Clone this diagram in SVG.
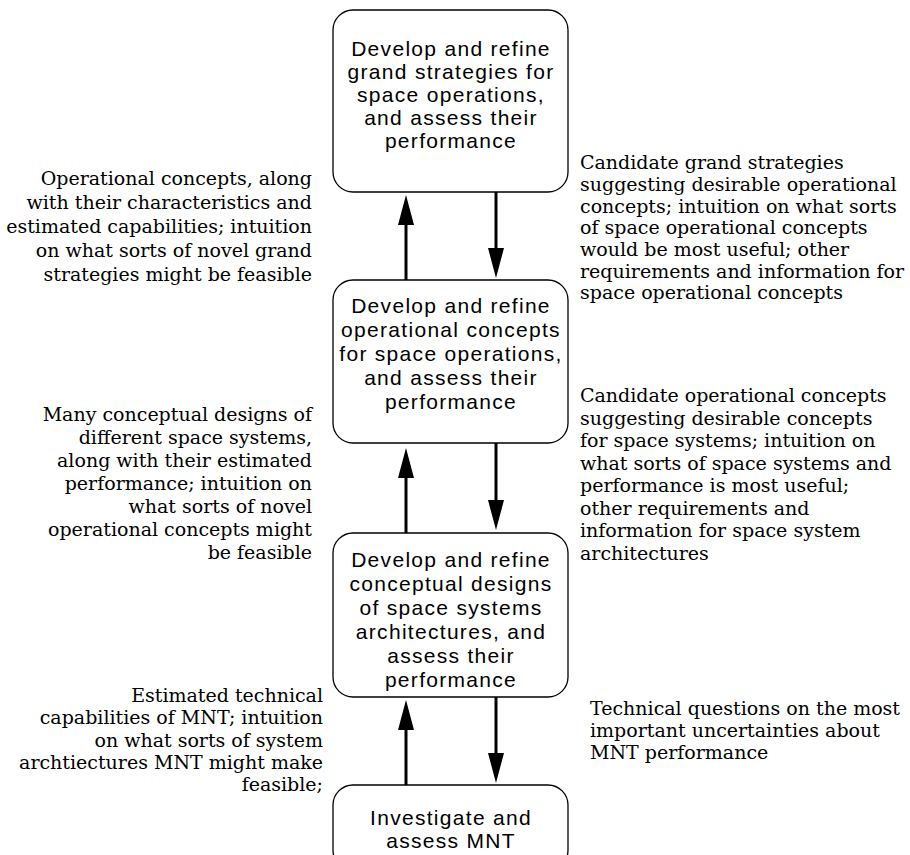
<svg xmlns="http://www.w3.org/2000/svg" width="910" height="855" viewBox="0 0 910 855">
<style>
.box{fill:#fff;stroke:#000;stroke-width:1.3}
.bt{font-family:"Liberation Sans",Arial,sans-serif;font-size:21px;letter-spacing:1.3px;fill:#000;text-anchor:middle}
.lbl{font-family:"DejaVu Serif","Liberation Serif",serif;font-size:19px;fill:#000}
.lt{text-anchor:end}
.rt{text-anchor:start}
.arr{stroke:#000;stroke-width:3;fill:none;marker-end:url(#ah)}
</style>
<defs>
<marker id="ah" viewBox="0 0 30 16" refX="1" refY="8" markerWidth="30" markerHeight="16" markerUnits="userSpaceOnUse" orient="auto">
<path d="M0,0 L30,8 L0,16 Z" fill="#000"/>
</marker>
</defs>
<rect width="910" height="855" fill="#fff"/>
<g id="connectors">
<line class="arr" x1="406" y1="280" x2="406" y2="224"/>
<line class="arr" x1="496" y1="192" x2="496" y2="249"/>
<line class="arr" x1="406" y1="533" x2="406" y2="477"/>
<line class="arr" x1="496" y1="443" x2="496" y2="501"/>
<line class="arr" x1="406" y1="785" x2="406" y2="729"/>
<line class="arr" x1="496" y1="697" x2="496" y2="754"/>
</g>
<g id="node-grand">
<rect class="box" x="333" y="10" width="235" height="182" rx="20"/>
<text class="bt" x="451" y="56">Develop and refine</text>
<text class="bt" x="451" y="79">grand strategies for</text>
<text class="bt" x="451" y="102">space operations,</text>
<text class="bt" x="451" y="125">and assess their</text>
<text class="bt" x="451" y="148">performance</text>
</g>
<g id="node-operational">
<rect class="box" x="333" y="280" width="235" height="163" rx="20"/>
<text class="bt" x="451" y="313">Develop and refine</text>
<text class="bt" x="451" y="337">operational concepts</text>
<text class="bt" x="451" y="361">for space operations,</text>
<text class="bt" x="451" y="385">and assess their</text>
<text class="bt" x="451" y="409">performance</text>
</g>
<g id="node-architectures">
<rect class="box" x="333" y="533" width="235" height="164" rx="20"/>
<text class="bt" x="451" y="567">Develop and refine</text>
<text class="bt" x="451" y="591">conceptual designs</text>
<text class="bt" x="451" y="615">of space systems</text>
<text class="bt" x="451" y="639">architectures, and</text>
<text class="bt" x="451" y="663">assess their</text>
<text class="bt" x="451" y="687">performance</text>
</g>
<g id="node-mnt">
<rect class="box" x="333" y="785" width="235" height="85" rx="20"/>
<text class="bt" x="451" y="825">Investigate and</text>
<text class="bt" x="451" y="848">assess MNT</text>
</g>
<g id="label-left-1">
<text class="lbl lt" x="312" y="185">Operational concepts, along</text>
<text class="lbl lt" x="312" y="209">with their characteristics and</text>
<text class="lbl lt" x="312" y="233">estimated capabilities; intuition</text>
<text class="lbl lt" x="312" y="257">on what sorts of novel grand</text>
<text class="lbl lt" x="312" y="281">strategies might be feasible</text>
</g>
<g id="label-right-1">
<text class="lbl rt" x="580" y="169">Candidate grand strategies</text>
<text class="lbl rt" x="580" y="191">suggesting desirable operational</text>
<text class="lbl rt" x="580" y="212.5">concepts; intuition on what sorts</text>
<text class="lbl rt" x="580" y="234">of space operational concepts</text>
<text class="lbl rt" x="580" y="256">would be most useful; other</text>
<text class="lbl rt" x="580" y="277.5">requirements and information for</text>
<text class="lbl rt" x="580" y="299">space operational concepts</text>
</g>
<g id="label-left-2">
<text class="lbl lt" x="312" y="421">Many conceptual designs of</text>
<text class="lbl lt" x="312" y="444">different space systems,</text>
<text class="lbl lt" x="312" y="467">along with their estimated</text>
<text class="lbl lt" x="312" y="490">performance; intuition on</text>
<text class="lbl lt" x="312" y="513">what sorts of novel</text>
<text class="lbl lt" x="312" y="536">operational concepts might</text>
<text class="lbl lt" x="312" y="559">be feasible</text>
</g>
<g id="label-right-2">
<text class="lbl rt" x="580" y="402">Candidate operational concepts</text>
<text class="lbl rt" x="580" y="424.5">suggesting desirable concepts</text>
<text class="lbl rt" x="580" y="447">for space systems; intuition on</text>
<text class="lbl rt" x="580" y="469.5">what sorts of space systems and</text>
<text class="lbl rt" x="580" y="492">performance is most useful;</text>
<text class="lbl rt" x="580" y="514.5">other requirements and</text>
<text class="lbl rt" x="580" y="537">information for space system</text>
<text class="lbl rt" x="580" y="559.5">architectures</text>
</g>
<g id="label-left-3">
<text class="lbl lt" x="323" y="702">Estimated technical</text>
<text class="lbl lt" x="323" y="724">capabilities of MNT; intuition</text>
<text class="lbl lt" x="323" y="747">on what sorts of system</text>
<text class="lbl lt" x="323" y="769">archtiectures MNT might make</text>
<text class="lbl lt" x="323" y="791">feasible;</text>
</g>
<g id="label-right-3">
<text class="lbl rt" x="590" y="715">Technical questions on the most</text>
<text class="lbl rt" x="590" y="737">important uncertainties about</text>
<text class="lbl rt" x="590" y="759">MNT performance</text>
</g>
</svg>
